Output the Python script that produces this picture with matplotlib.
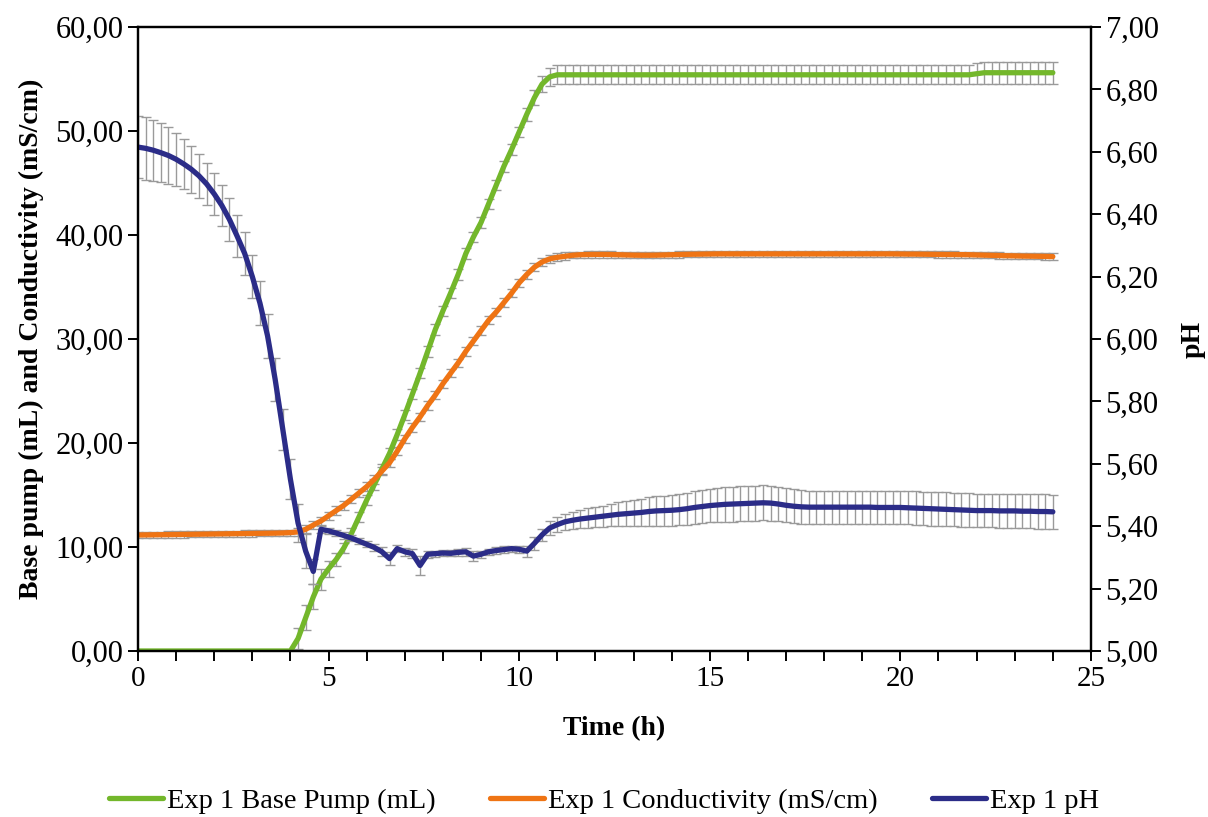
import numpy as np
import matplotlib
matplotlib.use("Agg")
import matplotlib.pyplot as plt
from matplotlib.ticker import MultipleLocator, FuncFormatter

plt.rcParams['font.family'] = ['Liberation Serif', 'DejaVu Serif']

# sampling times (h), one reading every 0.2 h from 0 to 24 h
time_h = np.round(np.arange(0, 24.01, 0.2), 1)

ph = [
    6.615, 6.611, 6.605, 6.597, 6.588, 6.576, 6.561, 6.544, 6.523, 6.497,
    6.465, 6.428, 6.383, 6.330, 6.274, 6.200, 6.115, 6.010, 5.870, 5.710,
    5.550, 5.410, 5.320, 5.255, 5.390, 5.385, 5.378, 5.370, 5.362, 5.352,
    5.342, 5.332, 5.318, 5.296, 5.328, 5.318, 5.312, 5.274, 5.310, 5.312,
    5.314, 5.313, 5.316, 5.318, 5.304, 5.310, 5.318, 5.322, 5.325, 5.328,
    5.326, 5.320, 5.345, 5.372, 5.394, 5.405, 5.414, 5.419, 5.423, 5.426,
    5.429, 5.432, 5.435, 5.438, 5.440, 5.442, 5.444, 5.447, 5.449, 5.450,
    5.451, 5.453, 5.456, 5.460, 5.463, 5.466, 5.468, 5.470, 5.471, 5.472,
    5.473, 5.474, 5.475, 5.474, 5.471, 5.467, 5.464, 5.462, 5.461, 5.461,
    5.461, 5.461, 5.461, 5.461, 5.461, 5.461, 5.461, 5.460, 5.460, 5.460,
    5.460, 5.459, 5.458, 5.457, 5.456, 5.455, 5.454, 5.453, 5.452, 5.451,
    5.450, 5.450, 5.450, 5.449, 5.449, 5.449, 5.448, 5.448, 5.447, 5.447,
    5.446,
]
ph_err = [
    0.100, 0.100, 0.098, 0.095, 0.090, 0.085, 0.080, 0.075, 0.070, 0.068,
    0.067, 0.067, 0.068, 0.068, 0.069, 0.070, 0.070, 0.070, 0.068, 0.066,
    0.064, 0.060, 0.055, 0.040, 0.012, 0.010, 0.010, 0.010, 0.010, 0.010,
    0.010, 0.012, 0.014, 0.022, 0.012, 0.012, 0.014, 0.030, 0.012, 0.010,
    0.010, 0.010, 0.010, 0.012, 0.016, 0.012, 0.010, 0.010, 0.010, 0.010,
    0.012, 0.018, 0.020, 0.020, 0.022, 0.024, 0.026, 0.028, 0.030, 0.031,
    0.032, 0.034, 0.036, 0.038, 0.040, 0.042, 0.044, 0.046, 0.047, 0.048,
    0.049, 0.050, 0.051, 0.052, 0.053, 0.054, 0.055, 0.056, 0.056, 0.056,
    0.056, 0.056, 0.056, 0.056, 0.055, 0.055, 0.054, 0.054, 0.053, 0.053,
    0.053, 0.053, 0.053, 0.053, 0.053, 0.053, 0.053, 0.053, 0.053, 0.053,
    0.053, 0.053, 0.054, 0.054, 0.054, 0.054, 0.054, 0.054, 0.054, 0.054,
    0.054, 0.054, 0.054, 0.054, 0.055, 0.055, 0.055, 0.055, 0.055, 0.055,
    0.055,
]

base_pump = [
    0.0, 0.0, 0.0, 0.0, 0.0, 0.0, 0.0, 0.0, 0.0, 0.0,
    0.0, 0.0, 0.0, 0.0, 0.0, 0.0, 0.0, 0.0, 0.0, 0.0,
    0.0, 1.2, 3.2, 5.2, 6.9, 7.9, 8.8, 9.9, 11.3, 12.9,
    14.5, 16.0, 17.5, 19.0, 20.8, 22.7, 24.7, 26.7, 28.8, 30.9,
    32.7, 34.4, 36.2, 38.2, 39.8, 41.2, 43.0, 44.8, 46.6, 48.2,
    49.9, 51.6, 53.2, 54.5, 55.2, 55.4, 55.4, 55.4, 55.4, 55.4,
    55.4, 55.4, 55.4, 55.4, 55.4, 55.4, 55.4, 55.4, 55.4, 55.4,
    55.4, 55.4, 55.4, 55.4, 55.4, 55.4, 55.4, 55.4, 55.4, 55.4,
    55.4, 55.4, 55.4, 55.4, 55.4, 55.4, 55.4, 55.4, 55.4, 55.4,
    55.4, 55.4, 55.4, 55.4, 55.4, 55.4, 55.4, 55.4, 55.4, 55.4,
    55.4, 55.4, 55.4, 55.4, 55.4, 55.4, 55.4, 55.4, 55.4, 55.4,
    55.5, 55.6, 55.6, 55.6, 55.6, 55.6, 55.6, 55.6, 55.6, 55.6,
    55.6,
]
base_pump_err = [
    0.0, 0.0, 0.0, 0.0, 0.0, 0.0, 0.0, 0.0, 0.0, 0.0,
    0.0, 0.0, 0.0, 0.0, 0.0, 0.0, 0.0, 0.0, 0.0, 0.0,
    0.0, 1.0, 1.2, 1.2, 1.0, 0.8, 0.6, 0.5, 0.5, 0.5,
    0.5, 0.5, 0.5, 0.5, 0.5, 0.5, 0.5, 0.5, 0.5, 0.5,
    0.5, 0.5, 0.5, 0.5, 0.5, 0.5, 0.5, 0.5, 0.5, 0.5,
    0.5, 0.6, 0.7, 0.8, 0.9, 0.9, 0.9, 0.9, 0.9, 0.9,
    0.9, 0.9, 0.9, 0.9, 0.9, 0.9, 0.9, 0.9, 0.9, 0.9,
    0.9, 0.9, 0.9, 0.9, 0.9, 0.9, 0.9, 0.9, 0.9, 0.9,
    0.9, 0.9, 0.9, 0.9, 0.9, 0.9, 0.9, 0.9, 0.9, 0.9,
    0.9, 0.9, 0.9, 0.9, 0.9, 0.9, 0.9, 0.9, 0.9, 0.9,
    0.9, 0.9, 0.9, 0.9, 0.9, 0.9, 0.9, 0.9, 0.9, 0.9,
    1.0, 1.05, 1.05, 1.05, 1.05, 1.05, 1.05, 1.05, 1.05, 1.05,
    1.05,
]

conductivity = [
    11.15, 11.16, 11.17, 11.18, 11.19, 11.20, 11.21, 11.22, 11.23, 11.24,
    11.25, 11.26, 11.27, 11.28, 11.29, 11.30, 11.31, 11.32, 11.33, 11.35,
    11.38, 11.45, 11.70, 12.10, 12.50, 13.00, 13.50, 14.00, 14.60, 15.20,
    15.80, 16.50, 17.30, 18.10, 19.20, 20.40, 21.50, 22.50, 23.60, 24.60,
    25.70, 26.70, 27.70, 28.80, 29.80, 30.80, 31.80, 32.60, 33.50, 34.40,
    35.40, 36.20, 36.90, 37.40, 37.70, 37.85, 37.95, 38.05, 38.10, 38.12,
    38.13, 38.13, 38.12, 38.10, 38.08, 38.06, 38.05, 38.05, 38.06, 38.08,
    38.10, 38.12, 38.14, 38.15, 38.16, 38.17, 38.18, 38.18, 38.18, 38.18,
    38.18, 38.18, 38.18, 38.18, 38.18, 38.18, 38.18, 38.18, 38.18, 38.18,
    38.18, 38.18, 38.18, 38.18, 38.18, 38.18, 38.18, 38.18, 38.18, 38.18,
    38.17, 38.16, 38.16, 38.15, 38.14, 38.13, 38.12, 38.12, 38.11, 38.10,
    38.08, 38.06, 38.04, 38.02, 38.00, 37.99, 37.97, 37.96, 37.95, 37.94,
    37.92,
]
conductivity_err = [0.3] * 21 + [0.4] * 36 + [0.3] * 64

GREEN = '#73B72B'
ORANGE = '#EF7414'
NAVY = '#2B2C88'
ERR = '#9a9a9a'
CAP = '#505050'

fig = plt.figure(figsize=(12.08, 8.17), dpi=100)
ax = fig.add_axes([0.1142, 0.2032, 0.7889, 0.7638])
ax2 = ax.twinx()

eb_kw = dict(fmt='none', ecolor=ERR, elinewidth=1.0, capsize=3.6, capthick=1.0)


def draw_err(a, y, e):
    cont = a.errorbar(time_h, y, yerr=e, **eb_kw)
    for cl in cont[1]:
        cl.set_color(CAP)


draw_err(ax, base_pump, base_pump_err)
draw_err(ax, conductivity, conductivity_err)
l1, = ax.plot(time_h, base_pump, color=GREEN, lw=3.8, solid_capstyle='round',
              label='Exp 1 Base Pump (mL)')
l2, = ax.plot(time_h, conductivity, color=ORANGE, lw=3.8, solid_capstyle='round',
              label='Exp 1 Conductivity (mS/cm)')

draw_err(ax2, ph, ph_err)
l3, = ax2.plot(time_h, ph, color=NAVY, lw=3.8, solid_capstyle='round',
               label='Exp 1 pH')

ax.set_xlim(0, 25)
ax.set_ylim(0, 60)
ax2.set_ylim(5.0, 7.0)

ax.xaxis.set_major_locator(MultipleLocator(5))
ax.xaxis.set_minor_locator(MultipleLocator(1))
ax.yaxis.set_major_locator(MultipleLocator(10))
ax2.yaxis.set_major_locator(MultipleLocator(0.2))

comma = FuncFormatter(lambda v, p: ('%.2f' % v).replace('.', ','))
ax.yaxis.set_major_formatter(comma)
ax2.yaxis.set_major_formatter(comma)

for a in (ax, ax2):
    for s in a.spines.values():
        s.set_linewidth(1.6)
    a.tick_params(which='both', direction='out', width=1.4, length=7)
ax.tick_params(axis='x', which='both', labelsize=21)
ax.tick_params(axis='y', labelsize=22)
ax2.tick_params(axis='y', labelsize=22)

ax.set_xlabel('Time (h)', fontsize=20, fontweight='bold', labelpad=18)
ax.set_ylabel('Base pump (mL) and Conductivity (mS/cm)', fontsize=20,
              fontweight='bold', labelpad=8)
ax2.set_ylabel('pH', fontsize=20, fontweight='bold', labelpad=16)

fig.legend(handles=[l1, l2, l3], loc='lower center', bbox_to_anchor=(0.5, -0.028),
           ncol=3, frameon=False, fontsize=20.5, handlelength=1.9,
           handletextpad=0.15, columnspacing=1.9)

fig.savefig('out.png', dpi=100)
